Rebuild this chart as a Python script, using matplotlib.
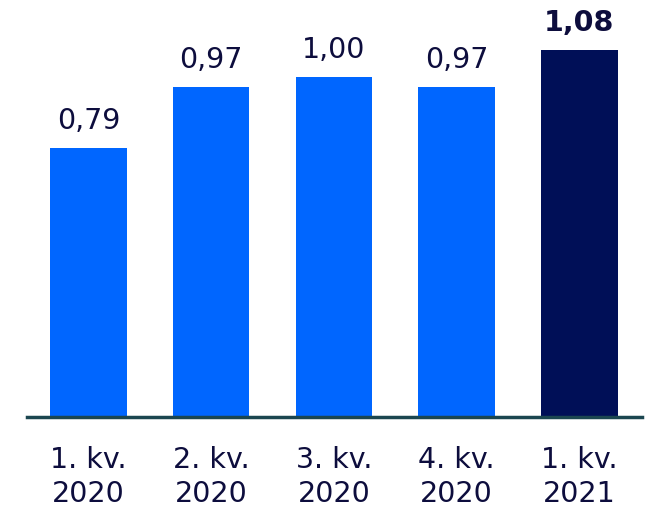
import numpy as np
import matplotlib.pyplot as plt

categories = ["1. kv.\n2020", "2. kv.\n2020", "3. kv.\n2020", "4. kv.\n2020", "1. kv.\n2021"]
values = [0.79, 0.97, 1.00, 0.97, 1.08]
labels = ["0,79", "0,97", "1,00", "0,97", "1,08"]
colors = ["#0066ff", "#0066ff", "#0066ff", "#0066ff", "#000f57"]

text_color = "#0d0d3d"

fig = plt.figure(figsize=(6.52, 5.09), dpi=100)
ax = fig.add_axes([27 / 652, 1 - 417 / 509, (642 - 27) / 652, 417 / 509])

x = np.arange(len(values))
ax.bar(x, values, width=0.625, color=colors, zorder=2)

for i, (v, lab) in enumerate(zip(values, labels)):
    bold = i == len(values) - 1
    ax.text(i, v + 0.038, lab, ha="center", va="bottom", fontsize=20.5,
            color=text_color, fontweight="bold" if bold else "normal")

ax.set_xlim(-0.5, 4.51)
ax.set_ylim(0, 417 / 340)
ax.set_xticks(x)
ax.set_xticklabels(categories, fontsize=20.5, color=text_color, linespacing=1.25)
ax.tick_params(axis="x", length=0, pad=21)
ax.set_yticks([])

for s in ["top", "right", "left"]:
    ax.spines[s].set_visible(False)
ax.spines["bottom"].set_color("#1b4650")
ax.spines["bottom"].set_linewidth(2.5)
ax.spines["bottom"].set_zorder(3)

fig.savefig("out.png", dpi=100)
